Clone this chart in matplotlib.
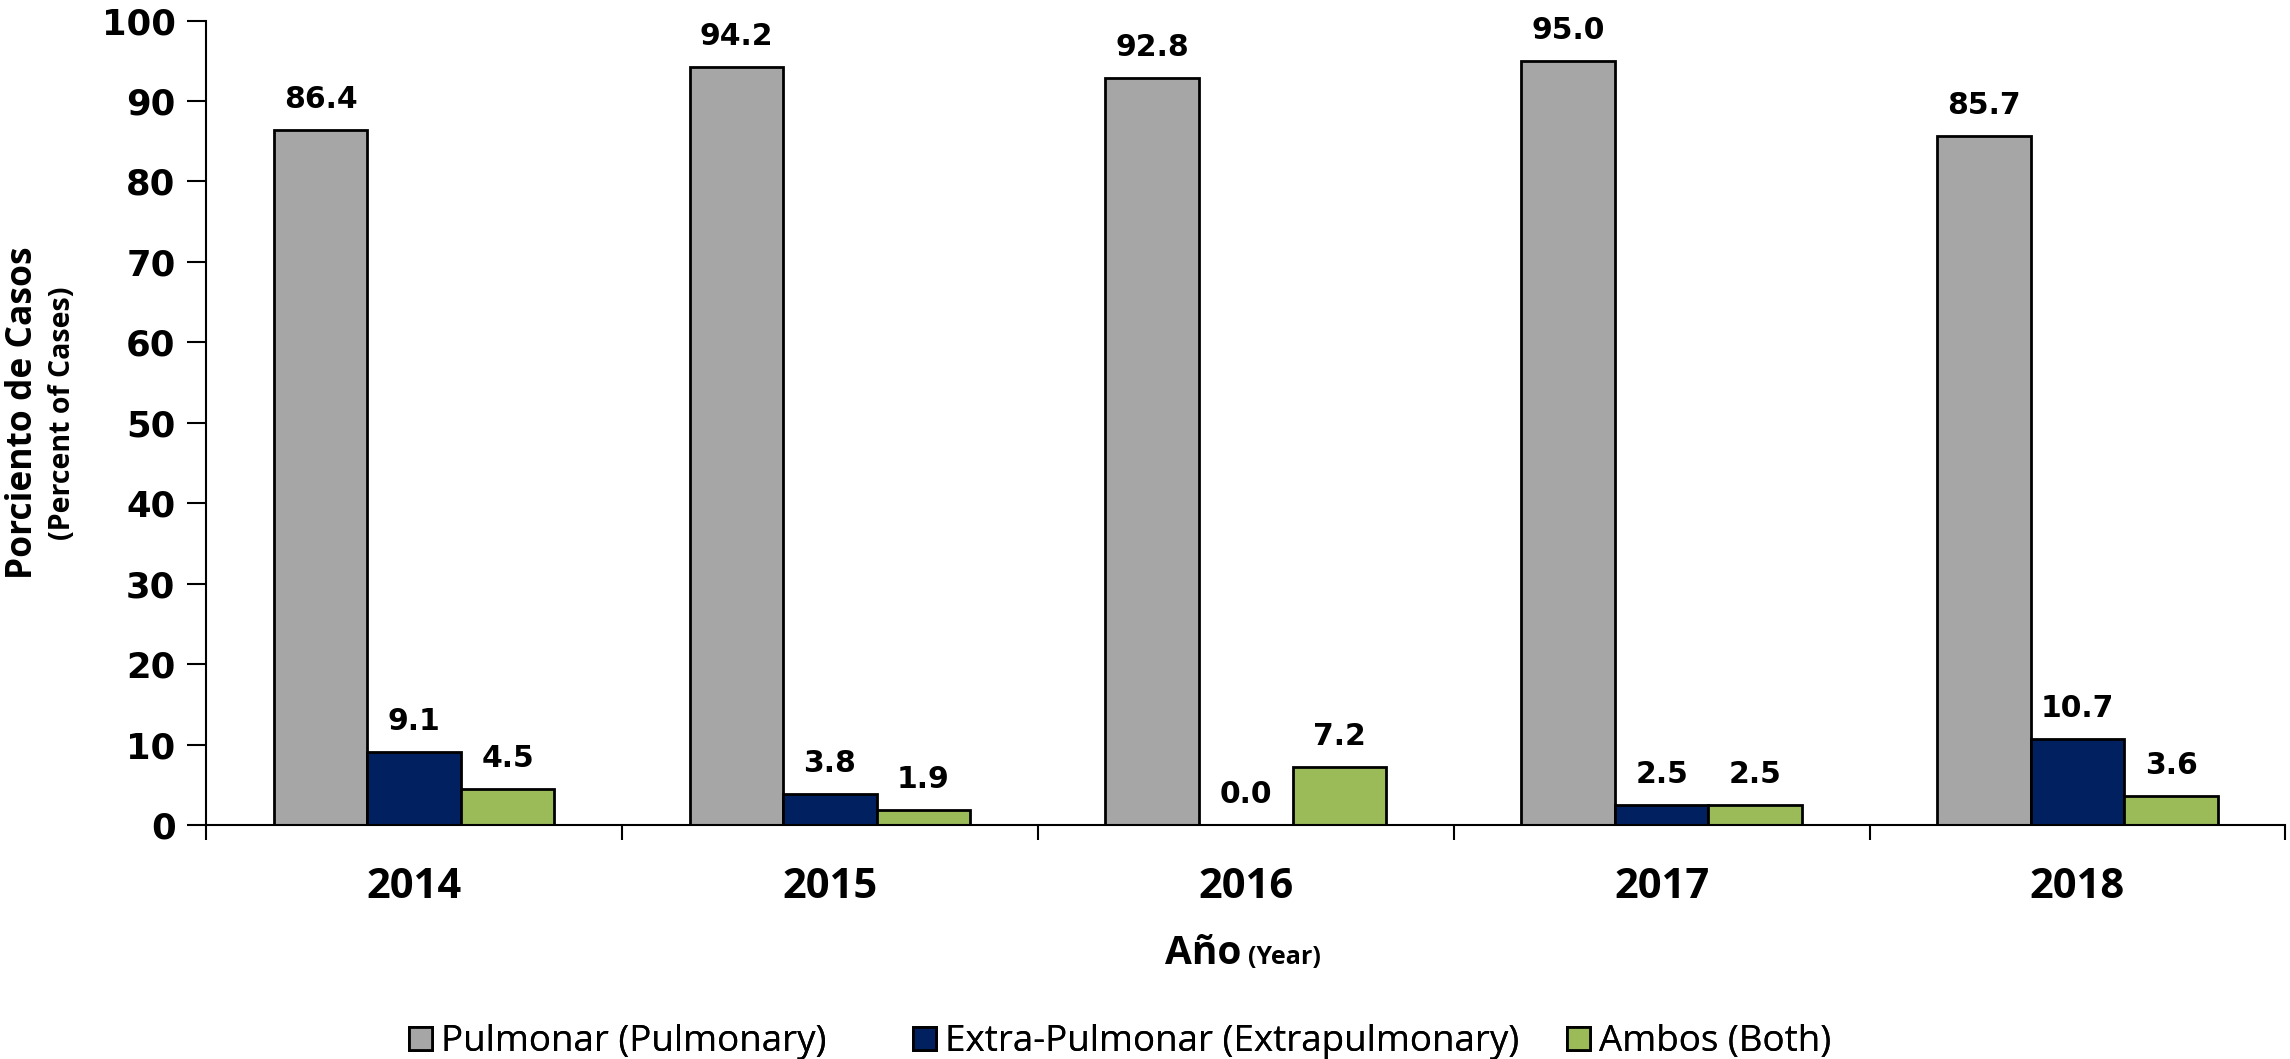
import matplotlib
matplotlib.use("Agg")
import matplotlib.pyplot as plt
import numpy as np

years = ["2014", "2015", "2016", "2017", "2018"]
pulmonar = [86.4, 94.2, 92.8, 95.0, 85.7]
extra = [9.1, 3.8, 0.0, 2.5, 10.7]
ambos = [4.5, 1.9, 7.2, 2.5, 3.6]
series_names = ["Pulmonar (Pulmonary)", "Extra-Pulmonar (Extrapulmonary)", "Ambos (Both)"]
colors = ["#A6A6A6", "#002060", "#9BBB59"]
yticks = [0, 10, 20, 30, 40, 50, 60, 70, 80, 90, 100]

narrow = "Open Sans"
wide = "DejaVu Sans"

fig = plt.figure(figsize=(22.9, 10.59), dpi=100)
ax = fig.add_axes([0.090, 0.221, 0.908, 0.7596])

x = np.arange(len(years))
w = 0.225
data = [pulmonar, extra, ambos]
handles = []
for i, (vals, col, name) in enumerate(zip(data, colors, series_names)):
    pos = x + (i - 1) * w
    b = ax.bar(pos, vals, width=w, color=col, edgecolor="black", linewidth=2, label=name)
    handles.append(b)
    for p, v in zip(pos, vals):
        ax.annotate(f"{v:.1f}", xy=(p, v), xytext=(0, 11.5), textcoords="offset points",
                    ha="center", va="bottom", fontsize=21.5, fontweight="bold", family=wide)

ax.set_xlim(-0.5, 4.5)
ax.set_ylim(0, 100)
ax.set_yticks(yticks)
ax.set_yticklabels([str(t) for t in yticks], fontsize=25.5, fontweight="bold", family=wide)
ax.tick_params(axis="y", length=14, width=1.5, direction="out", pad=8)
ax.set_xticks(x)
ax.set_xticklabels(years, fontsize=30, fontweight="bold", family=narrow)
ax.tick_params(axis="x", which="major", length=0, pad=30)
ax.set_xticks(np.arange(-0.5, 5.0, 1.0), minor=True)
ax.tick_params(axis="x", which="minor", length=11, width=1.5, direction="out")

for s in ["top", "right"]:
    ax.spines[s].set_visible(False)
for s in ["left", "bottom"]:
    ax.spines[s].set_linewidth(1.5)

# Y label (two lines, different sizes)
fig.text(0.0100, 0.610, "Porciento de Casos", rotation=90, ha="center", va="center",
         fontsize=25.5, fontweight="bold", family=narrow)
fig.text(0.0275, 0.610, "(Percent of Cases)", rotation=90, ha="center", va="center",
         fontsize=20.5, fontweight="bold", family=narrow)

# X label
fig.text(0.5420, 0.090, "Año", ha="right", va="baseline", fontsize=28, fontweight="bold", family=narrow)
fig.text(0.5450, 0.090, "(Year)", ha="left", va="baseline", fontsize=18, fontweight="bold", family=narrow)

# Legend entries placed individually
leg_x = [0.1786, 0.3986, 0.6843]
for h, name, lx in zip(handles, series_names, leg_x):
    lg = fig.legend([h], [name], loc="center left", bbox_to_anchor=(lx, 0.016),
                    frameon=False, prop={"family": narrow, "size": 26.5},
                    handlelength=0.62, handleheight=0.58, handletextpad=0.25,
                    borderpad=0, borderaxespad=0)
    fig.add_artist(lg)

fig.savefig("out.png", dpi=100)
